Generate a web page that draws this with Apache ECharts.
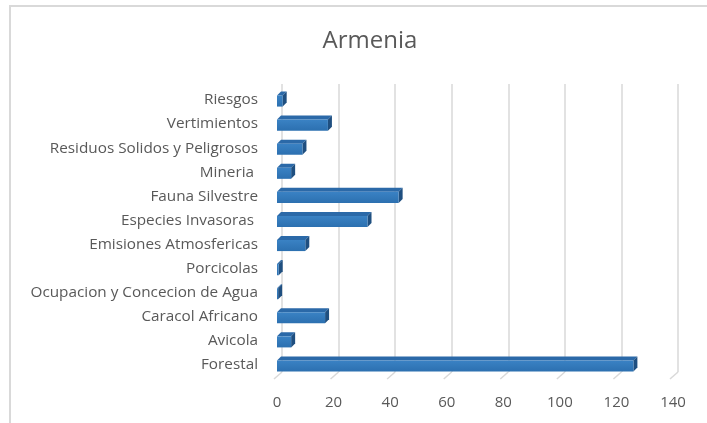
<!DOCTYPE html>
<html>
<head>
<meta charset="utf-8">
<script src="https://cdn.jsdelivr.net/npm/echarts@6/dist/echarts.min.js"></script>
<style>
  html, body { margin: 0; padding: 0; background: #fff; }
  #frame { position: absolute; left: 9px; top: 5px; width: 720px; height: 440px; border: 2px solid #d9d9d9; box-sizing: border-box; }
  #main { position: absolute; left: 0; top: 0; width: 707px; height: 423px; }
</style>
</head>
<body>
<div id="frame"></div>
<div id="main"></div>
<script>
var categories = [
  "Riesgos", "Vertimientos", "Residuos Solidos y Peligrosos", "Mineria ",
  "Fauna Silvestre", "Especies Invasoras ", "Emisiones Atmosfericas", "Porcicolas",
  "Ocupacion y Concecion de Agua", "Caracol Africano", "Avicola", "Forestal"
];
var values = [2, 18, 9, 5, 43, 32, 10, 0.6, 0.4, 17, 5, 126];
var ticks = [0, 20, 40, 60, 80, 100, 120, 140];

var depth = 5;
var labelFont = "Open Sans";

var chart = echarts.init(document.getElementById("main"));

var option = {
  animation: false,
  title: {
    text: "Armenia",
    left: 365,
    textAlign: "center",
    top: 24,
    textStyle: { fontFamily: labelFont, fontSize: 24, fontWeight: "normal", color: "#595959" }
  },
  grid: [
    // front plane: bars + labels
    { left: 277, right: 34, top: 88, bottom: 46 },
    // back plane: gridlines
    { left: 277 + depth, right: 34 - depth, top: 84, bottom: 51 }
  ],
  xAxis: [
    {
      gridIndex: 0, type: "value", min: 0, max: 140, interval: 20,
      axisLine: { show: false }, axisTick: { show: false }, splitLine: { show: false },
      axisLabel: { margin: 18, fontFamily: labelFont, fontSize: 15, color: "#595959" }
    },
    {
      gridIndex: 1, type: "value", min: 0, max: 140, interval: 20,
      axisLine: { show: false }, axisTick: { show: false }, axisLabel: { show: false },
      splitLine: { show: true, lineStyle: { color: "#d9d9d9", width: 1.5 } }
    }
  ],
  yAxis: [
    {
      gridIndex: 0, type: "category", data: categories, inverse: true,
      axisLine: { show: false }, axisTick: { show: false },
      axisLabel: { margin: 19, padding: [3, 0, 0, 0], fontFamily: labelFont, fontSize: 15.3, color: "#595959" }
    },
    {
      gridIndex: 1, type: "category", data: categories, inverse: true, show: false
    }
  ],
  series: [
    {
      // diagonal floor ticks
      type: "custom",
      xAxisIndex: 0, yAxisIndex: 0,
      data: ticks.map(function (t) { return [t, 0]; }),
      renderItem: function (params, api) {
        var p = api.coord([api.value(0), 0]);
        var yb = params.coordSys.y + params.coordSys.height;
        return {
          type: "line",
          shape: { x1: p[0] - 3, y1: yb + 2, x2: p[0] + depth, y2: yb - 5 },
          style: { stroke: "#d9d9d9", lineWidth: 1.5 }
        };
      }
    },
    {
      type: "custom",
      xAxisIndex: 0, yAxisIndex: 0,
      data: values.map(function (v, i) { return [v, i]; }),
      encode: { x: 0, y: 1 },
      renderItem: function (params, api) {
        var i = api.value(1);
        var s = api.coord([0, i]);
        var e = api.coord([api.value(0), i]);
        var band = api.size([0, 1])[1];
        var t = band * 0.46;
        var x0 = s[0], x1 = e[0];
        var y0 = s[1] - t / 2 + 1, y1 = s[1] + t / 2 + 1;
        var d = depth - 1;
        return {
          type: "group",
          children: [
            {
              type: "polygon",
              shape: { points: [[x0, y0], [x1, y0], [x1 + d, y0 - d], [x0 + d, y0 - d]] },
              style: { fill: "#2b69a8" }
            },
            {
              type: "polygon",
              shape: { points: [[x1, y0], [x1 + d, y0 - d], [x1 + d, y1 - d], [x1, y1]] },
              style: { fill: "#1f4f80" }
            },
            {
              type: "rect",
              shape: { x: x0, y: y0, width: Math.max(x1 - x0, 0.5), height: y1 - y0 },
              style: {
                fill: new echarts.graphic.LinearGradient(0, 0, 0, 1, [
                  { offset: 0, color: "#3a82c4" },
                  { offset: 1, color: "#2c70b0" }
                ])
              }
            }
          ]
        };
      }
    }
  ]
};

chart.setOption(option);
</script>
</body>
</html>
